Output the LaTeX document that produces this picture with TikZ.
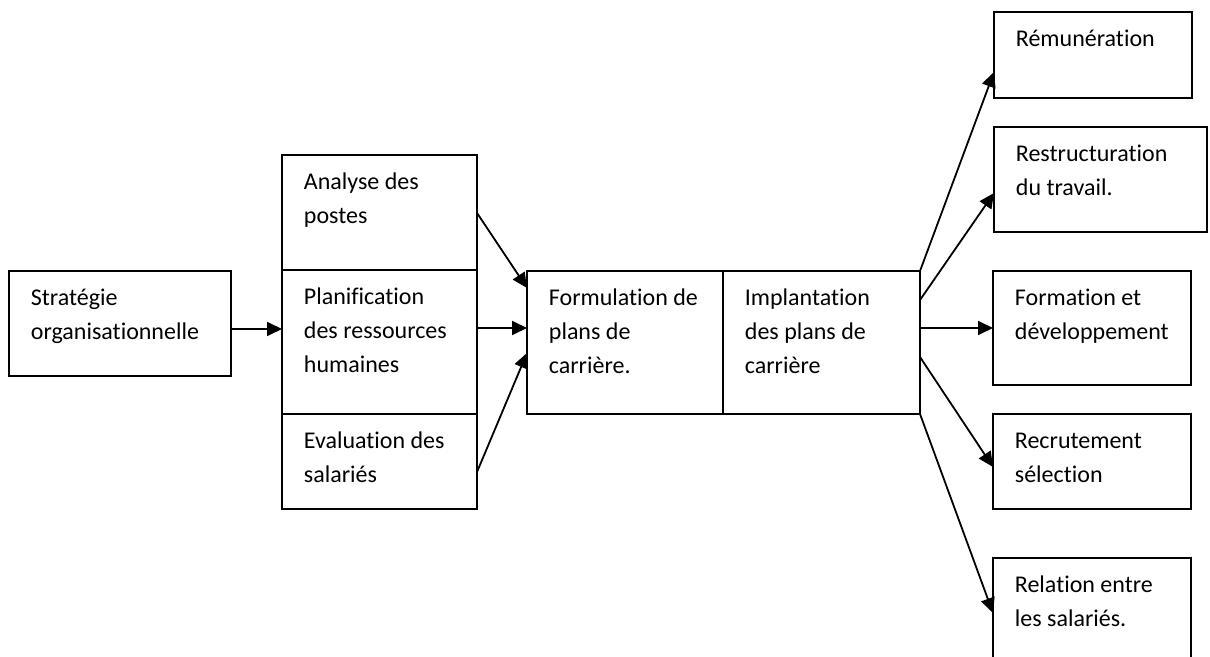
\documentclass[tikz,border=0pt]{standalone}
\usepackage{fontspec}
\setmainfont{Carlito}[Ligatures=NoCommon]
\usetikzlibrary{arrows.meta}
\begin{document}
\begin{tikzpicture}[x=0.5pt,y=-0.5pt,line width=0.9pt,
  bx/.style={draw, rectangle, anchor=north west, inner sep=0pt, outer sep=0pt},
  tx/.style={anchor=north west, inner sep=0pt, align=left, font=\fontsize{12}{17}\selectfont},
  arr/.style={-{Triangle[length=7.5pt,width=7pt]}}]
\useasboundingbox (0,0) rectangle (1210,657);
\clip (0,0) rectangle (1210,657);
\node[bx, minimum width=111pt, minimum height=52.5pt] (bx0) at (9,271){};
\node[tx] (tx0) at ([shift={(21,10)}]bx0.north west){\strut Stratégie\\organisationnelle};
\node[bx, minimum width=97.5pt, minimum height=57.5pt] (bx1) at (282,155){};
\node[tx] (tx1) at ([shift={(21,10)}]bx1.north west){\strut Analyse des\\postes};
\node[bx, minimum width=97.5pt, minimum height=72pt] (bx2) at (bx1.south west){};
\node[tx] (tx2) at ([shift={(21,10)}]bx2.north west){\strut Planification\\des ressources\\humaines};
\node[bx, minimum width=97.5pt, minimum height=47.5pt] (bx3) at (bx2.south west){};
\node[tx] (tx3) at ([shift={(21,10)}]bx3.north west){\strut Evaluation des\\salariés};
\node[bx, minimum width=98pt, minimum height=71.5pt] (bx4) at (527,271){};
\node[tx] (tx4) at ([shift={(21,10)}]bx4.north west){\strut Formulation de\\plans de\\carrière.};
\node[bx, minimum width=98.5pt, minimum height=71.5pt] (bx5) at (bx4.north east){};
\node[tx] (tx5) at ([shift={(21,10)}]bx5.north west){\strut Implantation\\des plans de\\carrière};
\node[bx, minimum width=99pt, minimum height=43pt] (bx6) at (994,12){};
\node[tx] (tx6) at ([shift={(21,10)}]bx6.north west){\strut Rémunération};
\node[bx, minimum width=106.5pt, minimum height=52.5pt] (bx7) at (994,127){};
\node[tx] (tx7) at ([shift={(21,10)}]bx7.north west){\strut Restructuration\\du travail.};
\node[bx, minimum width=99pt, minimum height=57pt] (bx8) at (993,271){};
\node[tx] (tx8) at ([shift={(21,10)}]bx8.north west){\strut Formation et\\développement};
\node[bx, minimum width=99pt, minimum height=47.5pt] (bx9) at (993,414){};
\node[tx] (tx9) at ([shift={(21,10)}]bx9.north west){\strut Recrutement\\sélection};
\node[bx, minimum width=99pt, minimum height=60pt] (bx10) at (993,558){};
\node[tx] (tx10) at ([shift={(21,10)}]bx10.north west){\strut Relation entre\\les salariés.};
\draw[arr]([shift={(0,58)}]bx0.north east) -- ([shift={(0,59)}]bx2.north west);
\draw[arr]([shift={(0,58)}]bx1.north east) -- ([shift={(0,17)}]bx4.north west);
\draw[arr]([shift={(0,58)}]bx2.north east) -- ([shift={(0,57)}]bx4.north west);
\draw[arr]([shift={(0,58)}]bx3.north east) -- ([shift={(0,82)}]bx4.north west);
\draw[arr](bx5.north east) -- ([shift={(0,60)}]bx6.north west);
\draw[arr]([shift={(0,29)}]bx5.north east) -- ([shift={(0,66)}]bx7.north west);
\draw[arr]([shift={(0,57)}]bx5.north east) -- ([shift={(0,57)}]bx8.north west);
\draw[arr]([shift={(0,86)}]bx5.north east) -- ([shift={(0,53)}]bx9.north west);
\draw[arr](bx5.south east) -- ([shift={(0,55)}]bx10.north west);
\end{tikzpicture}
\end{document}
